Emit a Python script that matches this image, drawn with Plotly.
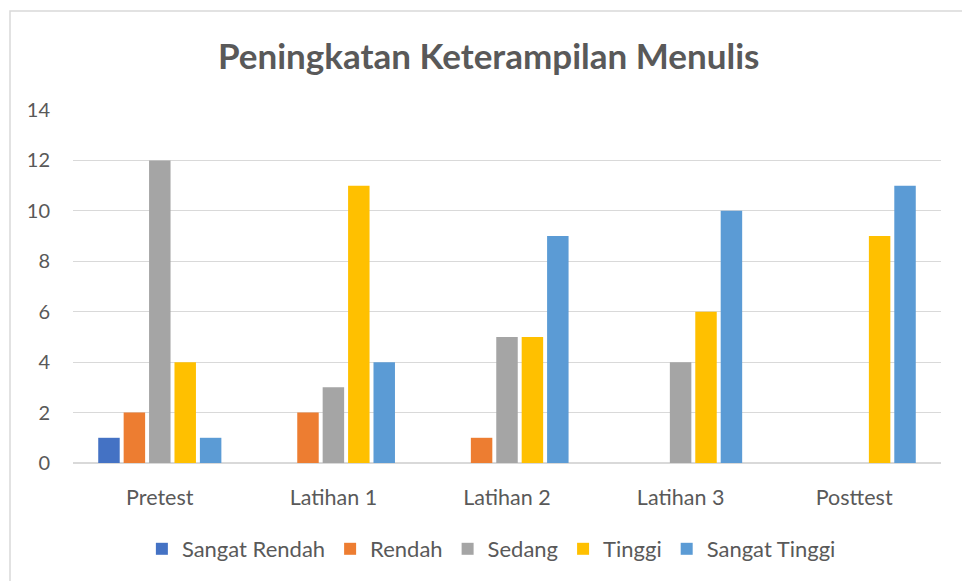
import plotly.graph_objects as go

categories = ["Pretest", "Latihan 1", "Latihan 2", "Latihan 3", "Posttest"]
series_names = ["Sangat Rendah", "Rendah", "Sedang", "Tinggi", "Sangat Tinggi"]
sangat_rendah = [1, 0, 0, 0, 0]
rendah = [2, 2, 1, 0, 0]
sedang = [12, 3, 5, 4, 0]
tinggi = [4, 11, 5, 6, 9]
sangat_tinggi = [1, 4, 9, 10, 11]
y_ticks = [0, 2, 4, 6, 8, 10, 12, 14]

colors = ["#4472C4", "#ED7D31", "#A5A5A5", "#FFC000", "#5B9BD5"]
values = [sangat_rendah, rendah, sedang, tinggi, sangat_tinggi]

FONT = "Lato"
TXT = "#595959"

fig = go.Figure()
for name, vals, col in zip(series_names, values, colors):
    fig.add_trace(go.Bar(name=name, x=categories, y=vals, marker_color=col,
                         marker_line_width=0))

fig.update_layout(
    width=962, height=581,
    barmode="group", bargap=0.268, bargroupgap=0.155,
    paper_bgcolor="white", plot_bgcolor="white",
    margin=dict(l=73, r=21, t=110, b=118, autoexpand=False),
    title=dict(text="<b>Peningkatan Keterampilan Menulis</b>",
               x=0.508, xanchor="center", y=0.902, yanchor="middle",
               font=dict(family=FONT, size=35, color=TXT)),
    font=dict(family=FONT, size=20, color=TXT),
    showlegend=True,
    legend=dict(orientation="h", x=0.482, xanchor="center",
                yref="container", y=32 / 581, yanchor="middle",
                font=dict(family=FONT, size=22, color=TXT), itemwidth=30,
                traceorder="normal"),
    xaxis=dict(showgrid=False, showline=False, ticks="", ticklabelstandoff=19,
               automargin=False,
               tickfont=dict(family=FONT, size=21.5, color=TXT)),
    yaxis=dict(range=[0, 14], tickvals=y_ticks, showgrid=True, gridcolor="#D9D9D9",
               gridwidth=1, zeroline=True, zerolinecolor="#D9D9D9", zerolinewidth=2,
               showline=False, ticks="", ticklabelstandoff=22, automargin=False,
               tickfont=dict(family=FONT, size=20, color=TXT)),
    shapes=[dict(type="rect", xref="paper", yref="paper",
                 x0=(10 - 73) / 868, x1=(980 - 73) / 868,
                 y0=-(600 - 463) / 353, y1=(463 - 11) / 353,
                 line=dict(color="#D9D9D9", width=1.5), fillcolor="rgba(0,0,0,0)",
                 layer="below")],
)

fig.write_html("out.html", config={"displayModeBar": False},
               post_script="document.body.style.margin='0';document.body.style.overflow='hidden';")
